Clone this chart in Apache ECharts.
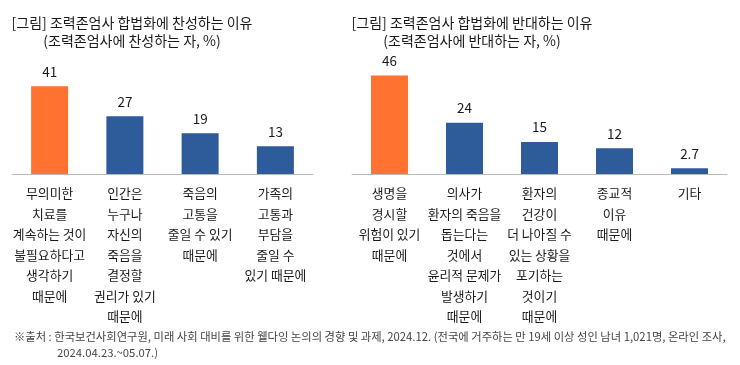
<!DOCTYPE html>
<html>
<head>
<meta charset="utf-8">
<script src="https://cdn.jsdelivr.net/npm/echarts@6/dist/echarts.min.js"></script>
<style>
html,body{margin:0;padding:0;background:#fff;}
#c{width:740px;height:365px;}
</style>
</head>
<body>
<div id="c"></div>
<script>
const leftTitle = ['[그림] 조력존엄사 합법화에 찬성하는 이유', '(조력존엄사에 찬성하는 자, %)'];
const rightTitle = ['[그림] 조력존엄사 합법화에 반대하는 이유', '(조력존엄사에 반대하는 자, %)'];
const leftCategories = [
  '무의미한\n치료를\n계속하는 것이\n불필요하다고\n생각하기\n때문에',
  '인간은\n누구나\n자신의\n죽음을\n결정할\n권리가 있기\n때문에',
  '죽음의\n고통을\n줄일 수 있기\n때문에',
  '가족의\n고통과\n부담을\n줄일 수\n있기 때문에'
];
const leftValues = [41, 27, 19, 13];
const rightCategories = [
  '생명을\n경시할\n위험이 있기\n때문에',
  '의사가\n환자의 죽음을\n돕는다는\n것에서\n윤리적 문제가\n발생하기\n때문에',
  '환자의\n건강이\n더 나아질 수\n있는 상황을\n포기하는\n것이기\n때문에',
  '종교적\n이유\n때문에',
  '기타'
];
const rightValues = [46, 24, 15, 12, 2.7];
const footnoteLine1 = '※출처 : 한국보건사회연구원, 미래 사회 대비를 위한 웰다잉 논의의 경향 및 과제, 2024.12. (전국에 거주하는 만 19세 이상 성인 남녀 1,021명, 온라인 조사,';
const footnoteLine2 = '2024.04.23.~05.07.)';

const ORANGE = '#FF7230';
const BLUE = '#2E5B99';
const FONT = '"Noto Sans CJK KR", "Noto Sans", sans-serif';

function colorize(vals) {
  return vals.map((v, i) => ({ value: v, itemStyle: { color: i === 0 ? ORANGE : BLUE } }));
}

const titleStyle = { fontFamily: FONT, fontSize: 14, fontWeight: 'normal', color: '#1a1a1a', lineHeight: 18, align: 'center' };
const noteStyle = { fontFamily: FONT, fontSize: 11.3, fontWeight: 'normal', color: '#444', lineHeight: 16 };

const chart = echarts.init(document.getElementById('c'), null, { renderer: 'canvas' });
chart.setOption({
  animation: false,
  backgroundColor: '#fff',
  textStyle: { fontFamily: FONT },
  title: [
    { text: leftTitle.join('\n'), left: 127, top: 9, textAlign: 'center', textStyle: titleStyle },
    { text: rightTitle.join('\n'), left: 467, top: 9, textAlign: 'center', textStyle: titleStyle },
    { text: footnoteLine1, left: 9, top: 324, textStyle: noteStyle },
    { text: footnoteLine2, left: 52, top: 340, textStyle: noteStyle }
  ],
  grid: [
    { left: 12, width: 301, top: 67, height: 107 },
    { left: 352, width: 375, top: 67, height: 107 }
  ],
  xAxis: [
    { type: 'category', gridIndex: 0, data: leftCategories,
      axisLine: { lineStyle: { color: '#bbb', width: 1 } }, axisTick: { show: false },
      axisLabel: { interval: 0, margin: 9, fontFamily: FONT, fontSize: 12.8, color: '#1a1a1a', lineHeight: 20.5, align: 'center', verticalAlign: 'top' } },
    { type: 'category', gridIndex: 1, data: rightCategories,
      axisLine: { lineStyle: { color: '#bbb', width: 1 } }, axisTick: { show: false },
      axisLabel: { interval: 0, margin: 9, fontFamily: FONT, fontSize: 12.8, color: '#1a1a1a', lineHeight: 20.5, align: 'center', verticalAlign: 'top' } }
  ],
  yAxis: [
    { type: 'value', gridIndex: 0, min: 0, max: 50, show: false },
    { type: 'value', gridIndex: 1, min: 0, max: 50, show: false }
  ],
  series: [
    { type: 'bar', xAxisIndex: 0, yAxisIndex: 0, data: colorize(leftValues), barWidth: 37,
      label: { show: true, position: 'top', distance: 8, fontFamily: FONT, fontSize: 13.5, color: '#1a1a1a' } },
    { type: 'bar', xAxisIndex: 1, yAxisIndex: 1, data: colorize(rightValues), barWidth: 37,
      label: { show: true, position: 'top', distance: 8, fontFamily: FONT, fontSize: 13.5, color: '#1a1a1a' } }
  ]
});
</script>
</body>
</html>
